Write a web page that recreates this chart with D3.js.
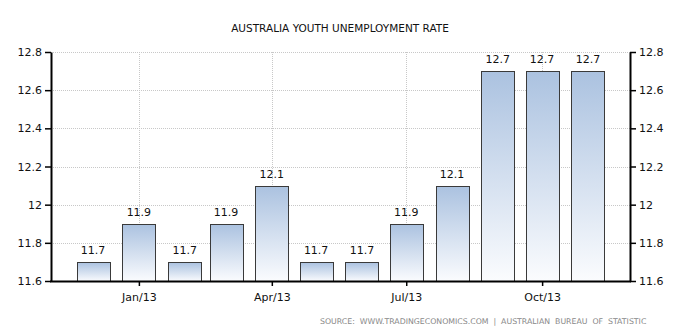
<!DOCTYPE html>
<html>
<head>
<meta charset="utf-8">
<script src="https://cdn.jsdelivr.net/npm/d3@7"></script>
<style>
  body { margin: 0; background: #fff; }
  text { font-family: "DejaVu Sans", Verdana, sans-serif; }
</style>
</head>
<body>
<svg></svg>
<script>
const width = 688,
  height = 332

const months = ["2012-12", "2013-01", "2013-02", "2013-03", "2013-04", "2013-05",
  "2013-06", "2013-07", "2013-08", "2013-09", "2013-10", "2013-11"]
const rates = [11.7, 11.9, 11.7, 11.9, 12.1, 11.7, 11.7, 11.9, 12.1, 12.7, 12.7, 12.7]
const yTicks = [11.6, 11.8, 12, 12.2, 12.4, 12.6, 12.8]
const xTickMonths = ["2013-01", "2013-04", "2013-07", "2013-10"]

const parse = d3.timeParse("%Y-%m")
const data = months.map((m, i) => ({ date: parse(m), value: rates[i] }))

const mLeft = 51, mRight = 630, mTop = 52, mBottom = 281
const pad = 28.5 * 864e5

const x = d3.scaleTime()
  .domain([+data[0].date - pad, +data[data.length - 1].date + pad])
  .range([mLeft, mRight])
const y = d3.scaleLinear().domain([11.6, 12.8]).range([mBottom, mTop])

const svg = d3.select("svg").attr("width", width).attr("height", height)

const grad = svg.append("defs").append("linearGradient")
  .attr("id", "barfill").attr("x1", 0).attr("y1", 0).attr("x2", 0).attr("y2", 1)
grad.append("stop").attr("offset", "0%").attr("stop-color", "#abc2e0")
grad.append("stop").attr("offset", "100%").attr("stop-color", "#fbfcfe")

// grid
const grid = svg.append("g").attr("stroke", "#c8c8c8").attr("stroke-dasharray", "1,1")
grid.selectAll("line.h")
  .data(yTicks.slice(1))
  .join("line")
  .attr("class", "h")
  .attr("x1", mLeft).attr("x2", mRight)
  .attr("y1", d => Math.round(y(d)) + 0.5).attr("y2", d => Math.round(y(d)) + 0.5)
grid.selectAll("line.v")
  .data(xTickMonths.map(parse))
  .join("line")
  .attr("class", "v")
  .attr("x1", d => Math.round(x(d)) + 0.5).attr("x2", d => Math.round(x(d)) + 0.5)
  .attr("y1", mTop).attr("y2", mBottom)

svg.append("text")
  .attr("x", 340).attr("y", 32)
  .attr("text-anchor", "middle")
  .style("font-size", "10.5px")
  .attr("fill", "#111")
  .text("AUSTRALIA YOUTH UNEMPLOYMENT RATE")

const barW = 33

svg.append("g")
  .selectAll("rect")
  .data(data)
  .join("rect")
  .attr("x", d => Math.round(x(d.date) - barW / 2) + 0.5)
  .attr("y", d => Math.round(y(d.value)) + 0.5)
  .attr("width", barW)
  .attr("height", d => mBottom - Math.round(y(d.value)))
  .attr("fill", "url(#barfill)")
  .attr("stroke", "#3a3a3a")
  .attr("stroke-width", 1)

svg.append("g")
  .selectAll("text")
  .data(data)
  .join("text")
  .attr("x", d => x(d.date))
  .attr("y", d => y(d.value) - 8)
  .attr("text-anchor", "middle")
  .style("font-size", "11px")
  .attr("fill", "#111")
  .text(d => d3.format(".1f")(d.value))

const fmtY = d => (d === 12 ? "12" : d3.format(".1f")(d))

const yLeft = svg.append("g")
  .attr("transform", `translate(${mLeft},0)`)
  .call(d3.axisLeft(y).tickValues(yTicks).tickFormat(fmtY).tickSize(6).tickSizeOuter(0))
const yRight = svg.append("g")
  .attr("transform", `translate(${mRight},0)`)
  .call(d3.axisRight(y).tickValues(yTicks).tickFormat(fmtY).tickSize(6).tickSizeOuter(0))

const xAxis = svg.append("g")
  .attr("transform", `translate(0,${mBottom})`)
  .call(d3.axisBottom(x).tickValues(xTickMonths.map(parse))
    .tickFormat(d3.timeFormat("%b/%y")).tickSize(5).tickSizeOuter(0))

;[yLeft, yRight, xAxis].forEach(a => {
  a.selectAll(".domain").attr("stroke", "#000").attr("stroke-width", 2)
  a.selectAll(".tick line").attr("stroke", "#000").attr("stroke-width", 1.5)
  a.selectAll("text").style("font-size", "11px").attr("fill", "#111")
    .style("font-family", "\"DejaVu Sans\", Verdana, sans-serif")
})
xAxis.select(".domain").attr("d", `M${mLeft - 1},0.5H${mRight + 1}`)
xAxis.selectAll("text").attr("dy", "1.1em")

svg.append("text")
  .attr("x", 320).attr("y", 324)
  .style("white-space", "pre")
  .style("font-size", "7.8px")
  .attr("fill", "#888")
  .text("SOURCE:  WWW.TRADINGECONOMICS.COM  |  AUSTRALIAN  BUREAU  OF  STATISTIC")
</script>
</body>
</html>
